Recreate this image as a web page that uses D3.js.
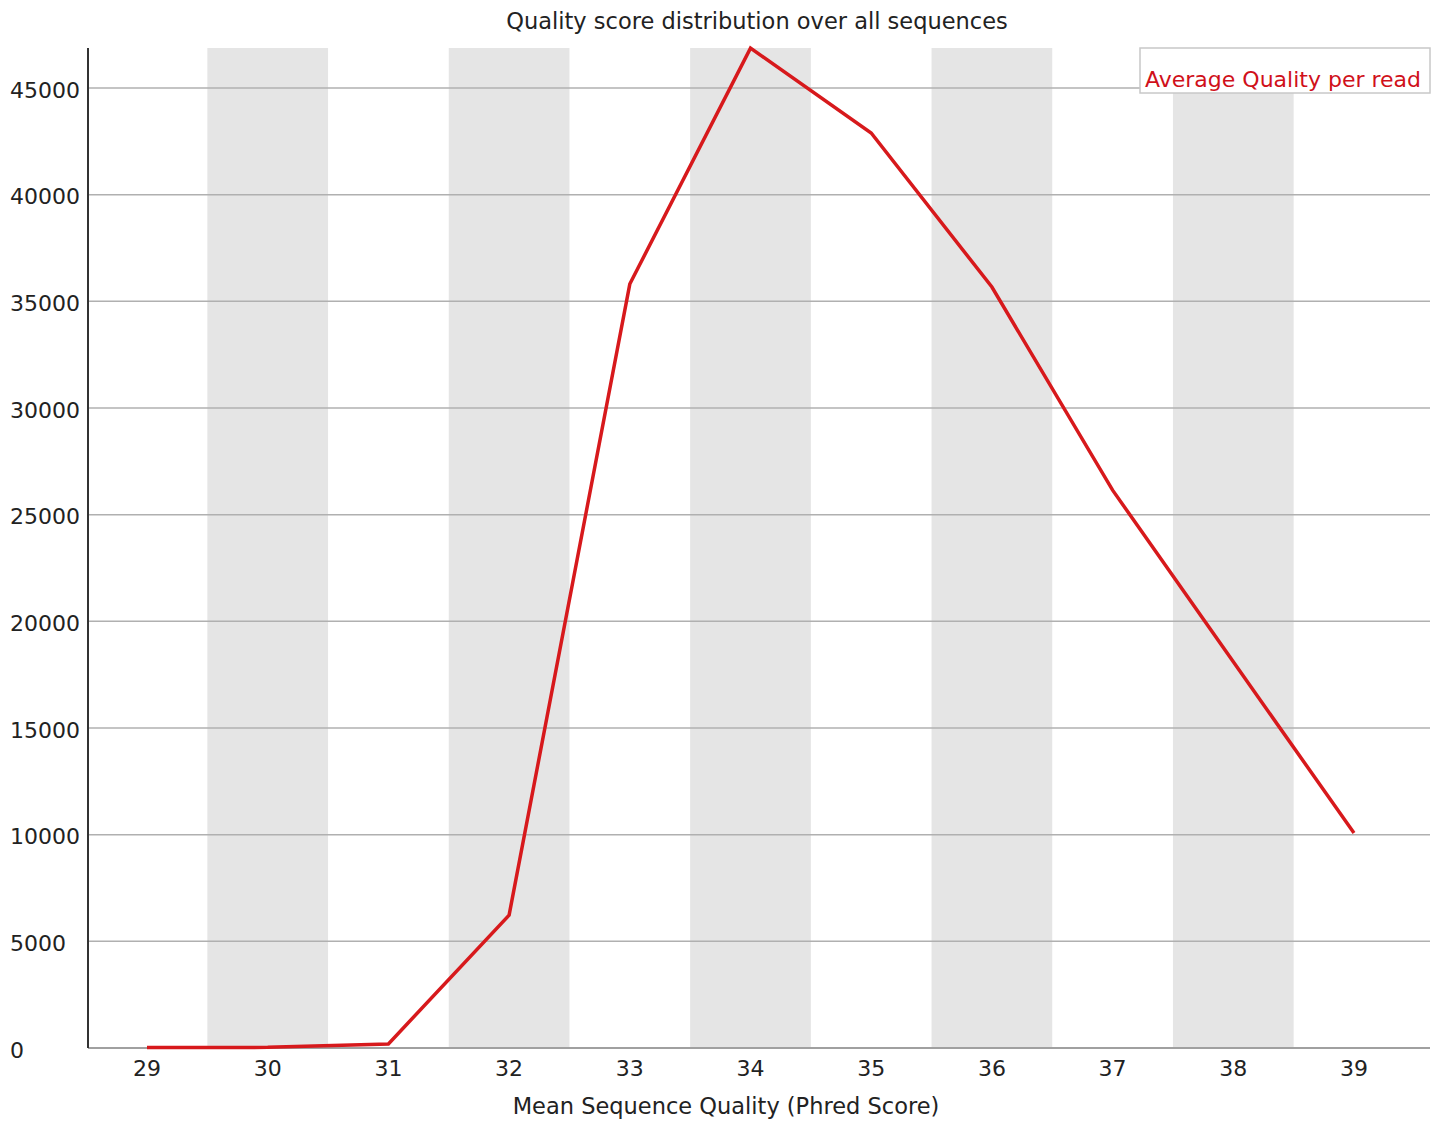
<!DOCTYPE html>
<html><head><meta charset="utf-8">
<script src="https://cdn.jsdelivr.net/npm/d3@7"></script>
<style>body{margin:0;background:#fff}svg{display:block}text{font-family:"DejaVu Sans",sans-serif;}</style>
</head><body>
<script>
const categories = [29,30,31,32,33,34,35,36,37,38,39];
const counts = [20,30,190,6230,35810,46870,42890,35670,26150,18100,10080];
const yTicks = [0,5000,10000,15000,20000,25000,30000,35000,40000,45000];
const title = "Quality score distribution over all sequences";
const xTitle = "Mean Sequence Quality (Phred Score)";
const seriesName = "Average Quality per read";

(function(){
const W=1446,H=1124;
const svg=d3.select("body").append("svg").attr("width",W).attr("height",H);
const pL=88,pR=1430,pT=48,pB=1048;
const step=120.7;
const x=d3.scaleLinear().domain([29,39]).range([147,147+10*step]);
const y=d3.scaleLinear().domain([0,46875]).range([pB,pT]);

categories.forEach((c,i)=>{
  if(i%2===1){
    svg.append("rect").attr("x",x(c)-step/2).attr("y",pT).attr("width",step).attr("height",pB-pT).attr("fill","#e5e5e5");
  }
});
yTicks.forEach(t=>{
  if(t===0) return;
  svg.append("line").attr("x1",pL).attr("x2",pR).attr("y1",y(t)).attr("y2",y(t)).attr("stroke","#b0b0b0").attr("stroke-width",1.5);
});
svg.append("line").attr("x1",pL).attr("x2",pR).attr("y1",pB).attr("y2",pB).attr("stroke","#a0a0a0").attr("stroke-width",2);
svg.append("line").attr("x1",pL).attr("x2",pL).attr("y1",pT).attr("y2",pB).attr("stroke","#333").attr("stroke-width",2);

yTicks.forEach(t=>{
  svg.append("text").attr("x",10).attr("y",y(t)+2).attr("dy","0.35em").attr("font-size",22).attr("fill","#222").text(t);
});
categories.forEach(c=>{
  svg.append("text").attr("x",x(c)).attr("y",1076).attr("text-anchor","middle").attr("font-size",22).attr("fill","#222").text(c);
});
svg.append("text").attr("x",757).attr("y",29).attr("text-anchor","middle").attr("font-size",22.5).attr("fill","#222").text(title);
svg.append("text").attr("x",726).attr("y",1114).attr("text-anchor","middle").attr("font-size",22.5).attr("fill","#222").text(xTitle);

const line=d3.line().x((d,i)=>x(categories[i])).y(d=>y(d));
svg.append("path").datum(counts).attr("d",line).attr("fill","none").attr("stroke","#d7191c").attr("stroke-width",3.5);

svg.append("rect").attr("x",1140).attr("y",48).attr("width",290).attr("height",45).attr("fill","#fff").attr("stroke","#c8c8c8").attr("stroke-width",1.5);
svg.append("text").attr("x",1145).attr("y",87).attr("font-size",22).attr("fill","#d0101a").text(seriesName);
})();
</script>
</body></html>
